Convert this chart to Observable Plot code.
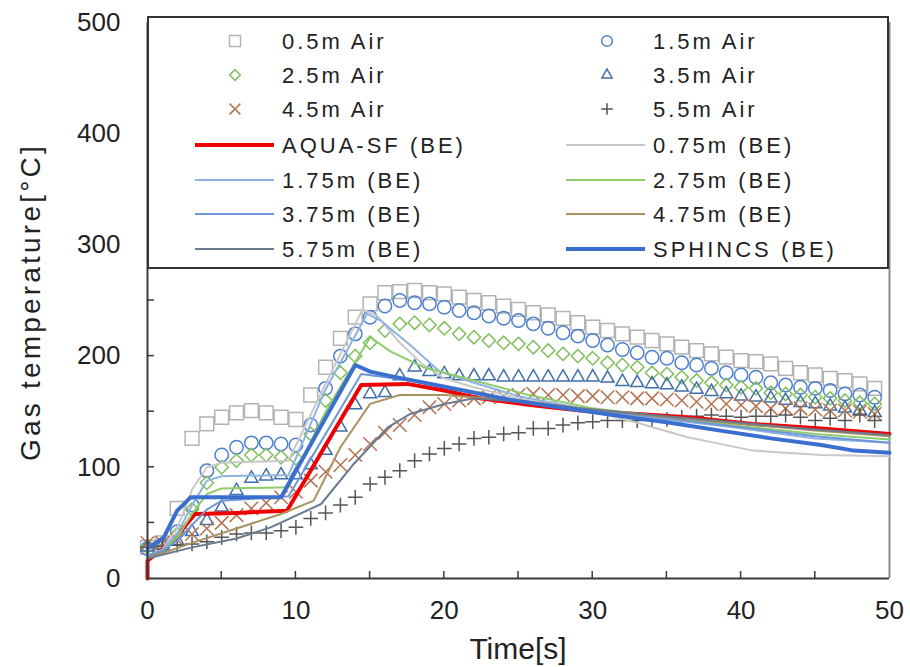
<!DOCTYPE html>
<html><head><meta charset="utf-8">
<script src="https://cdn.jsdelivr.net/npm/d3@7"></script>
<script src="https://cdn.jsdelivr.net/npm/@observablehq/plot@0.6"></script>
<style>body{margin:0;background:#fff;} #chart{width:910px;height:667px;}</style>
</head><body><div id="chart"></div>
<script>
// ---- measured data (air, every 1 s) ----
const airTimes = [0,1,2,3,4,5,6,7,8,9,10,11,12,13,14,15,16,17,18,19,20,21,22,23,24,25,26,27,28,29,30,31,32,33,34,35,36,37,38,39,40,41,42,43,44,45,46,47,48,49];
const air05 = [28,32,63,126,139,145,149,151,149,145,143,165,190,216,235,247,257,258,259,257,256,253,250,248,245,242,239,237,234,230,226,223,220,217,214,211,208,205,202,199,196,195,193,189,185,183,180,178,175,171];
const air15 = [27,30,42,66,97,111,118,122,122,121,120,138,171,200,220,235,245,250,248,247,244,241,239,236,234,232,229,225,221,218,214,210,206,203,199,198,194,192,189,185,183,181,176,174,172,171,169,166,165,163];
const air25 = [28,30,40,62,86,100,106,111,111,109,108,130,160,185,200,212,223,229,230,228,225,220,217,214,212,211,208,205,202,200,198,194,192,190,185,184,181,178,176,174,172,171,167,166,165,163,162,160,158,157];
const air35 = [28,30,34,42,52,64,79,90,92,93,93,102,115,136,156,166,167,182,190,186,184,182,182,182,181,181,181,181,181,181,181,180,177,176,175,174,172,170,168,166,164,163,162,160,158,157,155,153,151,149];
const air45 = [32,32,35,40,45,50,57,63,68,73,78,88,96,102,111,121,131,138,147,154,157,160,162,163,164,165,166,165,165,164,164,163,163,162,162,161,160,159,157,157,156,155,153,153,153,152,151,151,150,148];
const air55 = [28,29,30,31,33,37,40,41,41,43,46,54,59,66,73,85,91,97,106,112,117,121,126,127,130,131,135,135,138,140,141,142,142,142,142,143,145,146,147,146,145,146,146,147,145,142,144,142,147,142];

// ---- calculated results (BE), [time, temperature] ----
const beAquaSF = [[0,0],[0,16],[1.7,34],[2.4,45],[3.2,58],[6,59],[9.4,61],[14.4,174],[17.5,175],[20,169],[22.4,162],[25.8,156],[29.2,151],[33,148],[36.4,145],[40.8,139],[45.4,135],[50,130]];
const be075 = [[0,20],[1,26],[2,45],[3,80],[4,100],[5,104],[9.5,106],[12,175],[14.5,242],[15.5,236],[17,212],[18.5,193],[20,180],[22,172],[25,162],[30,150],[33,140],[36.4,127],[40.8,115],[45.4,111],[50,110]];
const be175 = [[0,20],[1,26],[2,40],[3,66],[4,88],[5,92],[9.5,93],[12,170],[14.8,238],[15.7,232],[17.7,210],[19.7,186],[22,176],[25,164],[30,151],[35,143],[40,135],[45,126],[50,122]];
const be275 = [[0,20],[1,25],[2,37],[3,58],[4,76],[5,81],[9.5,82],[12,150],[15,217],[16.4,204],[18.6,190],[22,178],[25.4,166],[30,153],[35,145],[40,137],[45,130],[50,125]];
const be375 = [[0,20],[1,25],[2,34],[3,48],[4,62],[5,70],[9.5,74],[12,130],[14.4,184],[17.7,178],[20,172],[25,160],[30,151],[35,144],[40,136],[45,128],[50,122]];
const be475 = [[0,18],[3,32],[6,45],[9,58],[11.2,70],[13,118],[15,157],[17,165],[20,165],[25,160],[30,152],[35,145],[40,139],[45,133],[50,128]];
const be575 = [[0,18],[3,28],[6,36],[8.3,46],[11.7,67],[13.9,103],[16.2,136],[17.7,148],[20,157],[22,162],[25,159],[30,152],[35,146],[40,140],[45,134],[50,129]];
const beSphincs = [[0,27],[1.1,37],[2,61],[2.9,73],[9,73],[14,192],[15,186],[16.4,182],[20.2,172],[24.7,160],[29.2,151],[33,144],[35.2,140],[38.6,133],[42,126],[45.4,120],[47.6,115],[50,113]];

// ---- axis ticks ----
const xTickLabels = [0,10,20,30,40,50];
const xMinorTicks = [5,10,15,20,25,30,35,40,45];
const yTickLabels = [0,100,200,300,400,500];
const yMinorTicks = [50,100,150,200,250,300,350,400,450];

const FONT = "'Liberation Sans', Arial, sans-serif";

const airSeries = [
  {name:"0.5m Air", values:air05, symbol:"square",    color:"#b3b3b3", r:7.8},
  {name:"1.5m Air", values:air15, symbol:"circle",    color:"#4f80d0", r:6.7},
  {name:"2.5m Air", values:air25, symbol:"diamond2",  color:"#80bf5c", r:6.0},
  {name:"3.5m Air", values:air35, symbol:"triangle2", color:"#3f6fa8", r:6.2},
  {name:"4.5m Air", values:air45, symbol:"times",     color:"#b5734f", r:6.2},
  {name:"5.5m Air", values:air55, symbol:"plus",      color:"#555555", r:4.8}
];
const beSeries = [
  {name:"AQUA-SF (BE)", values:beAquaSF, color:"#f00000", w:4},
  {name:"0.75m (BE)",   values:be075,    color:"#c8c8c8", w:2},
  {name:"1.75m (BE)",   values:be175,    color:"#8db3e2", w:2},
  {name:"2.75m (BE)",   values:be275,    color:"#8ecb6c", w:2},
  {name:"3.75m (BE)",   values:be375,    color:"#6f96d6", w:2},
  {name:"4.75m (BE)",   values:be475,    color:"#a8925e", w:2},
  {name:"5.75m (BE)",   values:be575,    color:"#6a7a90", w:2},
  {name:"SPHINCS (BE)", values:beSphincs,color:"#3b6fcf", w:4}
];

const marks = [
  Plot.ruleX([50], {stroke:"#8a8a8a", strokeWidth:2}),
  ...airSeries.map(s => Plot.dot(s.values.map((v,i)=>({t:airTimes[i], v})), {
    x:"t", y:"v", symbol:()=>s.symbol, r:s.r, fill:"none", stroke:s.color, strokeWidth:1.5
  })),
  ...beSeries.map(s => Plot.line(s.values, {
    x:d=>d[0], y:d=>d[1], stroke:s.color, strokeWidth:s.w, strokeLinejoin:"round"
  })),
  Plot.ruleX([0], {stroke:"#3a3a3a", strokeWidth:2}),
  Plot.ruleY([0], {stroke:"#3a3a3a", strokeWidth:2}),
  Plot.axisX({ticks:xTickLabels, tickSize:0, tickPadding:22, fontSize:26, label:null}),
  Plot.axisY({ticks:yTickLabels, tickSize:0, tickPadding:27, fontSize:26, label:null})
];

const plot = Plot.plot({
  width:910, height:667,
  marginLeft:147, marginRight:21, marginTop:22, marginBottom:89,
  style:{fontFamily:FONT, color:"#222", background:"#fff"},
  x:{domain:[0,50]},
  y:{domain:[0,500]},
  symbol:{type:"identity"},
  marks
});
document.getElementById("chart").append(plot);

// inward ticks using the plot's scales
const svg = d3.select(plot);
const sx = plot.scale("x"), sy = plot.scale("y");
const gT = svg.append("g").attr("stroke","#3a3a3a").attr("stroke-width",1.5);
xMinorTicks.forEach(t => {
  const px = sx.apply(t);
  gT.append("line").attr("x1",px).attr("x2",px).attr("y1",sy.apply(0)).attr("y2",sy.apply(0)-7);
});
yMinorTicks.forEach(v => {
  const py = sy.apply(v);
  gT.append("line").attr("x1",sx.apply(0)).attr("x2",sx.apply(0)+7).attr("y1",py).attr("y2",py);
});

// axis titles
svg.append("text").text("Time[s]")
  .attr("x",(sx.apply(0)+sx.apply(50))/2).attr("y",659)
  .attr("text-anchor","middle").attr("font-size",30).attr("fill","#222").attr("font-family",FONT);
svg.append("text").text("Gas temperature[°C]")
  .attr("transform",`translate(40,${(sy.apply(0)+sy.apply(500))/2 + 2}) rotate(-90)`)
  .attr("text-anchor","middle").attr("font-size",28).attr("letter-spacing","3.2px")
  .attr("fill","#222").attr("font-family",FONT);

// legend
const lg = svg.append("g").attr("text-anchor","start");
lg.append("rect").attr("x",148).attr("y",17).attr("width",740).attr("height",251)
  .attr("fill","#fff").attr("stroke","#333").attr("stroke-width",2);
const rowY = [41,75,109,145,180,214,249];
const leftItems  = [airSeries[0], airSeries[2], airSeries[4], beSeries[0], beSeries[2], beSeries[4], beSeries[6]];
const rightItems = [airSeries[1], airSeries[3], airSeries[5], beSeries[1], beSeries[3], beSeries[5], beSeries[7]];
const symMap = {square:d3.symbolSquare, circle:d3.symbolCircle, diamond2:d3.symbolDiamond2, triangle2:d3.symbolTriangle2, times:d3.symbolTimes, plus:d3.symbolPlus};
function drawCol(items, cx, lx1, lx2, tx){
  items.forEach((s,i) => {
    const y = rowY[i];
    if (s.symbol) {
      const rr = s.r*0.8;
      lg.append("path").attr("d", d3.symbol(symMap[s.symbol], rr*rr*Math.PI)())
        .attr("transform",`translate(${cx},${y})`).attr("fill","none").attr("stroke",s.color).attr("stroke-width",1.5);
    } else {
      lg.append("line").attr("x1",lx1).attr("x2",lx2).attr("y1",y).attr("y2",y)
        .attr("stroke",s.color).attr("stroke-width",s.w);
    }
    lg.append("text").text(s.name).attr("x",tx).attr("y",y).attr("dy","0.36em")
      .attr("text-anchor","start")
      .attr("font-size",22).attr("letter-spacing","3px").attr("fill","#222").attr("font-family",FONT);
  });
}
drawCol(leftItems, 235, 195, 274, 282);
drawCol(rightItems, 607, 566, 645, 653);
</script></body></html>
